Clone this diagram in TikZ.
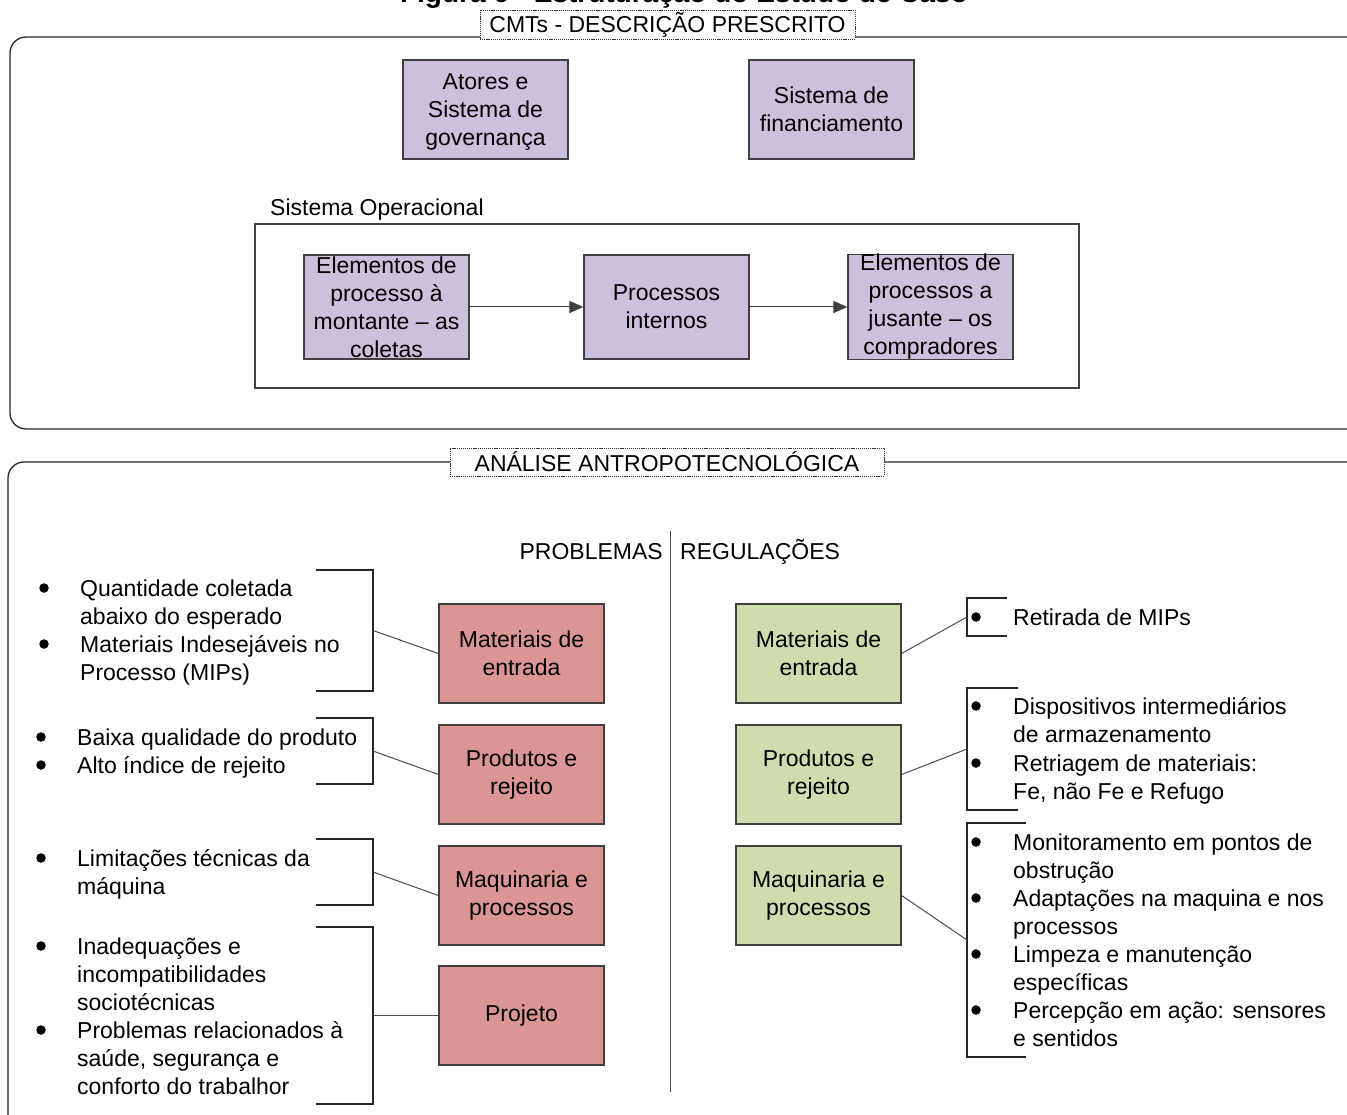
\documentclass[tikz,border=0pt]{standalone}
\usepackage{fontspec}
\setmainfont{Liberation Sans}
\usetikzlibrary{arrows.meta}

\definecolor{lav}{HTML}{CCC1DA}
\definecolor{redf}{HTML}{D99694}
\definecolor{grnf}{HTML}{CFDDAE}
\definecolor{edge}{HTML}{3F3F3F}

\tikzset{
  txt/.style={font=\fontsize{23}{28}\selectfont, inner sep=0pt},
  box/.style={txt, draw=edge, line width=1.2pt, minimum width=165pt, minimum height=99pt, align=center},
  lavbox/.style={box, fill=lav},
  redbox/.style={box, fill=redf},
  grnbox/.style={box, fill=grnf},
  tag/.style={txt, draw=black!80, fill=white, dash pattern=on 1.2pt off 0.9pt, line width=0.8pt},
  item/.style={txt, anchor=base west},
  dot/.style={circle, fill=black, inner sep=0pt, minimum size=9.5pt},
  frame/.style={draw=black!85, line width=1.3pt, rounded corners=16pt},
  brk/.style={draw=black!85, line width=1.2pt},
  link/.style={draw=black!70, line width=1pt},
  flow/.style={draw=black!75, line width=1pt, -{Triangle[length=14pt,width=12pt]}},
}

\begin{document}
\begin{tikzpicture}[x=1pt, y=-1pt]
\useasboundingbox (0,0) rectangle (1347,1115);
\clip (0,0) rectangle (1347,1115);

% heading, only its lower edge falls inside the page
\node[font=\fontsize{28}{30}\selectfont\bfseries, anchor=base, inner sep=0pt] (title) at (684,3) {Figura 6 - Estruturação do Estudo de Caso};

% ---------- upper panel ----------
\draw[frame] (10,37) rectangle (1365,429);
\node[tag, minimum width=375pt, minimum height=29pt] (cmts) at (667.5,24.5) {CMTs - DESCRIÇÃO PRESCRITO};

\draw[box, fill=lav] (403,60) rectangle (568,159);
\node[txt, align=center] (atores) at (485.5,112) {Atores e\\Sistema de\\governança};
\node[lavbox] (financ) at (831.5,109.5) {Sistema de\\financiamento};

\node[txt, anchor=base west] (sisop) at (270,216) {Sistema Operacional};
\draw[draw=black!75, line width=1.1pt] (255,224) rectangle (1079,388);

\node[lavbox, minimum height=104pt] (mont) at (386.5,307) {Elementos de\\processo à\\montante – as\\coletas};
\node[lavbox, minimum height=104pt] (proc) at (666.5,307) {Processos\\internos};
\node[lavbox, minimum height=104pt] (jus) at (930.5,307) {Elementos de\\processos a\\jusante – os\\compradores};

\draw[flow] (mont.east) -- (proc.west);
\draw[flow] (proc.east) -- (jus.west);

% ---------- lower panel ----------
\draw[frame] (8,462) rectangle (1365,1140);
\node[tag, minimum width=434pt, minimum height=28pt] (anal) at (667,462) {ANÁLISE ANTROPOTECNOLÓGICA};

\node[txt, anchor=base east] (probl) at (663,559) {PROBLEMAS};
\node[txt, anchor=base west] (regul) at (680,559) {REGULAÇÕES};
\draw[link] (670,531) -- (670,1092);

% problem boxes
\node[redbox] (r1) at (521.5,653.5) {Materiais de\\entrada};
\node[redbox] (r2) at (521.5,774.5) {Produtos e\\rejeito};
\node[redbox] (r3) at (521.5,895.5) {Maquinaria e\\processos};
\node[redbox] (r4) at (521.5,1015.5) {Projeto};

% regulation boxes
\node[grnbox] (g1) at (818.5,653.5) {Materiais de\\entrada};
\node[grnbox] (g2) at (818.5,774.5) {Produtos e\\rejeito};
\node[grnbox] (g3) at (818.5,895.5) {Maquinaria e\\processos};

% left brackets and their links
\draw[brk] (316,570) -| (373,691) -- (316,691);
\draw[brk] (316,718) -| (373,784) -- (316,784);
\draw[brk] (316,839) -| (373,905) -- (316,905);
\draw[brk] (316,927) -| (373,1104) -- (316,1104);
\coordinate (bk1) at (373,630.5);
\coordinate (bk2) at (373,751);
\coordinate (bk3) at (373,872);
\coordinate (bk4) at (373,1015.5);
\draw[link] (bk1) -- (r1.west);
\draw[link] (bk2) -- (r2.west);
\draw[link] (bk3) -- (r3.west);
\draw[link] (bk4) -- (r4.west);

% right brackets and their links
\draw[brk] (1007,598) -| (967,636) -- (1007,636);
\draw[brk] (1018,688) -| (967,810) -- (1018,810);
\draw[brk] (1026,823) -| (967,1057) -- (1026,1057);
\coordinate (bg1) at (967,617);
\coordinate (bg2) at (967,749);
\coordinate (bg3) at (967,940);
\draw[link] (g1.east) -- (bg1);
\draw[link] (g2.east) -- (bg2);
\draw[link] (g3.east) -- (bg3);

% left lists
\node[dot] (d1) at (44,588) {};
\node[item] (t1a) at (80,596) {Quantidade coletada};
\node[item] (t1b) at (80,624) {abaixo do esperado};
\node[dot] (d2) at (44,644) {};
\node[item] (t1c) at (80,652) {Materiais Indesejáveis no};
\node[item] (t1d) at (80,680) {Processo (MIPs)};

\node[dot] (d3) at (41,737) {};
\node[item] (t2a) at (77,745) {Baixa qualidade do produto};
\node[dot] (d4) at (41,765) {};
\node[item] (t2b) at (77,773) {Alto índice de rejeito};

\node[dot] (d5) at (41,858) {};
\node[item] (t3a) at (77,866) {Limitações técnicas da};
\node[item] (t3b) at (77,894) {máquina};

\node[dot] (d6) at (41,946) {};
\node[item] (t4a) at (77,954) {Inadequações e};
\node[item] (t4b) at (77,982) {incompatibilidades};
\node[item] (t4c) at (77,1010) {sociotécnicas};
\node[dot] (d7) at (41,1030) {};
\node[item] (t4d) at (77,1038) {Problemas relacionados à};
\node[item] (t4e) at (77,1066) {saúde, segurança e};
\node[item] (t4f) at (77,1094) {conforto do trabalhor};

% right lists
\node[dot] (e1) at (976,617) {};
\node[item] (u1a) at (1013,625) {Retirada de MIPs};

\node[dot] (e2) at (976,706) {};
\node[item] (u2a) at (1013,714) {Dispositivos intermediários};
\node[item] (u2b) at (1013,742) {de armazenamento};
\node[dot] (e3) at (976,763) {};
\node[item] (u2c) at (1013,771) {Retriagem de materiais:};
\node[item] (u2d) at (1013,799) {Fe, não Fe e Refugo};

\node[dot] (e4) at (976,842) {};
\node[item] (u3a) at (1013,850) {Monitoramento em pontos de};
\node[item] (u3b) at (1013,878) {obstrução};
\node[dot] (e5) at (976,898) {};
\node[item] (u3c) at (1013,906) {Adaptações na maquina e nos};
\node[item] (u3d) at (1013,934) {processos};
\node[dot] (e6) at (976,954) {};
\node[item] (u3e) at (1013,962) {Limpeza e manutenção};
\node[item] (u3f) at (1013,990) {específicas};
\node[dot] (e7) at (976,1010) {};
\node[item] (u3g) at (1013,1018) {Percepção em ação: sensores};
\node[item] (u3h) at (1013,1046) {e sentidos};
\end{tikzpicture}
\end{document}
